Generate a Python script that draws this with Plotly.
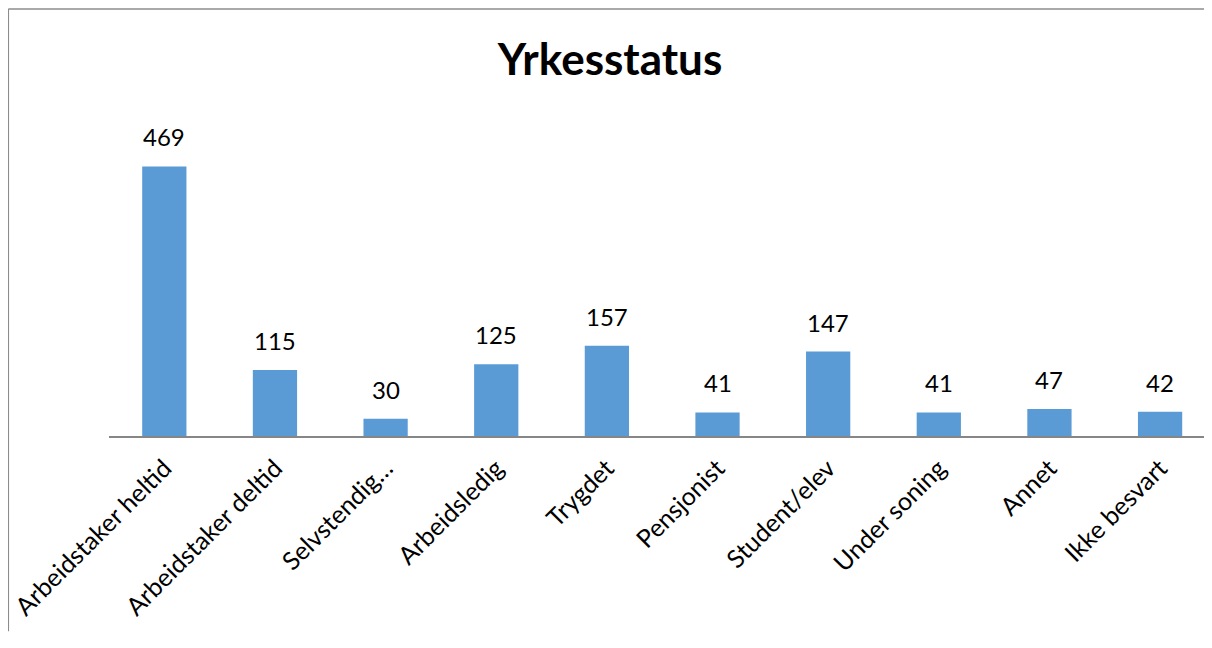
import plotly.graph_objects as go

categories = ["Arbeidstaker heltid", "Arbeidstaker deltid", "Selvstendig…", "Arbeidsledig",
              "Trygdet", "Pensjonist", "Student/elev", "Under soning", "Annet", "Ikke besvart"]
values = [469, 115, 30, 125, 157, 41, 147, 41, 47, 42]
title_text = "Yrkesstatus"

# page has an 8px body margin; figure coords = reference coords - 8
OFF = 8
W, H = 1212 - OFF, 648 - 2 * OFF - 8
plot_left, plot_right_px = 109.4 - OFF, W
plot_top, plot_bottom = 137 - OFF, 436.5 - OFF
n = len(categories)
cat_w = 110.6
x_max = -0.5 + (plot_right_px - plot_left) / cat_w

font = "Lato, Carlito, Calibri, sans-serif"

fig = go.Figure()
fig.add_trace(go.Bar(
    x=list(range(n)), y=values,
    marker=dict(color="#5B9BD5", line=dict(width=0)),
    width=0.4,
    hoverinfo="skip",
))

for i, v in enumerate(values):
    fig.add_annotation(x=i, y=v, text=str(v), showarrow=False, yanchor="bottom",
                       yshift=13, font=dict(family=font, size=24, color="#000000"))

fig.update_layout(
    width=W, height=H,
    margin=dict(l=plot_left, r=0, t=plot_top, b=H - plot_bottom, pad=0),
    paper_bgcolor="white", plot_bgcolor="white",
    showlegend=False,
    title=dict(text="<b>%s</b>" % title_text, x=(610 - OFF) / W, xanchor="center",
               y=1 - (60 - OFF) / H, yanchor="middle",
               font=dict(family=font, size=44, color="#000000")),
    xaxis=dict(
        tickmode="array", tickvals=list(range(n)), ticktext=categories,
        range=[-0.5, x_max], tickangle=-45,
        showline=True, linecolor="#868686", linewidth=1.5,
        showgrid=False, zeroline=False, ticks="",
        ticklabelstandoff=6,
        tickfont=dict(family=font, size=25, color="#000000"),
        fixedrange=True,
    ),
    yaxis=dict(range=[0, (plot_bottom - plot_top) / (270 / 469)], visible=False,
               showgrid=False, zeroline=False, fixedrange=True),
)

# chart border (decoration): top and left edges only, kept inside the figure
pw = W - plot_left
ph = plot_bottom - plot_top
bx0 = (0.75 - plot_left) / pw
by1 = (plot_bottom - 0.75) / ph
fig.add_shape(type="line", xref="paper", yref="paper",
              x0=bx0, x1=1.0, y0=by1, y1=by1,
              line=dict(color="#8C8C8C", width=1.5), layer="below")
fig.add_shape(type="line", xref="paper", yref="paper",
              x0=bx0, x1=bx0, y0=(plot_bottom - H) / ph, y1=by1,
              line=dict(color="#8C8C8C", width=1.5), layer="below")

fig.write_html("out.html", config={"displayModeBar": False})
